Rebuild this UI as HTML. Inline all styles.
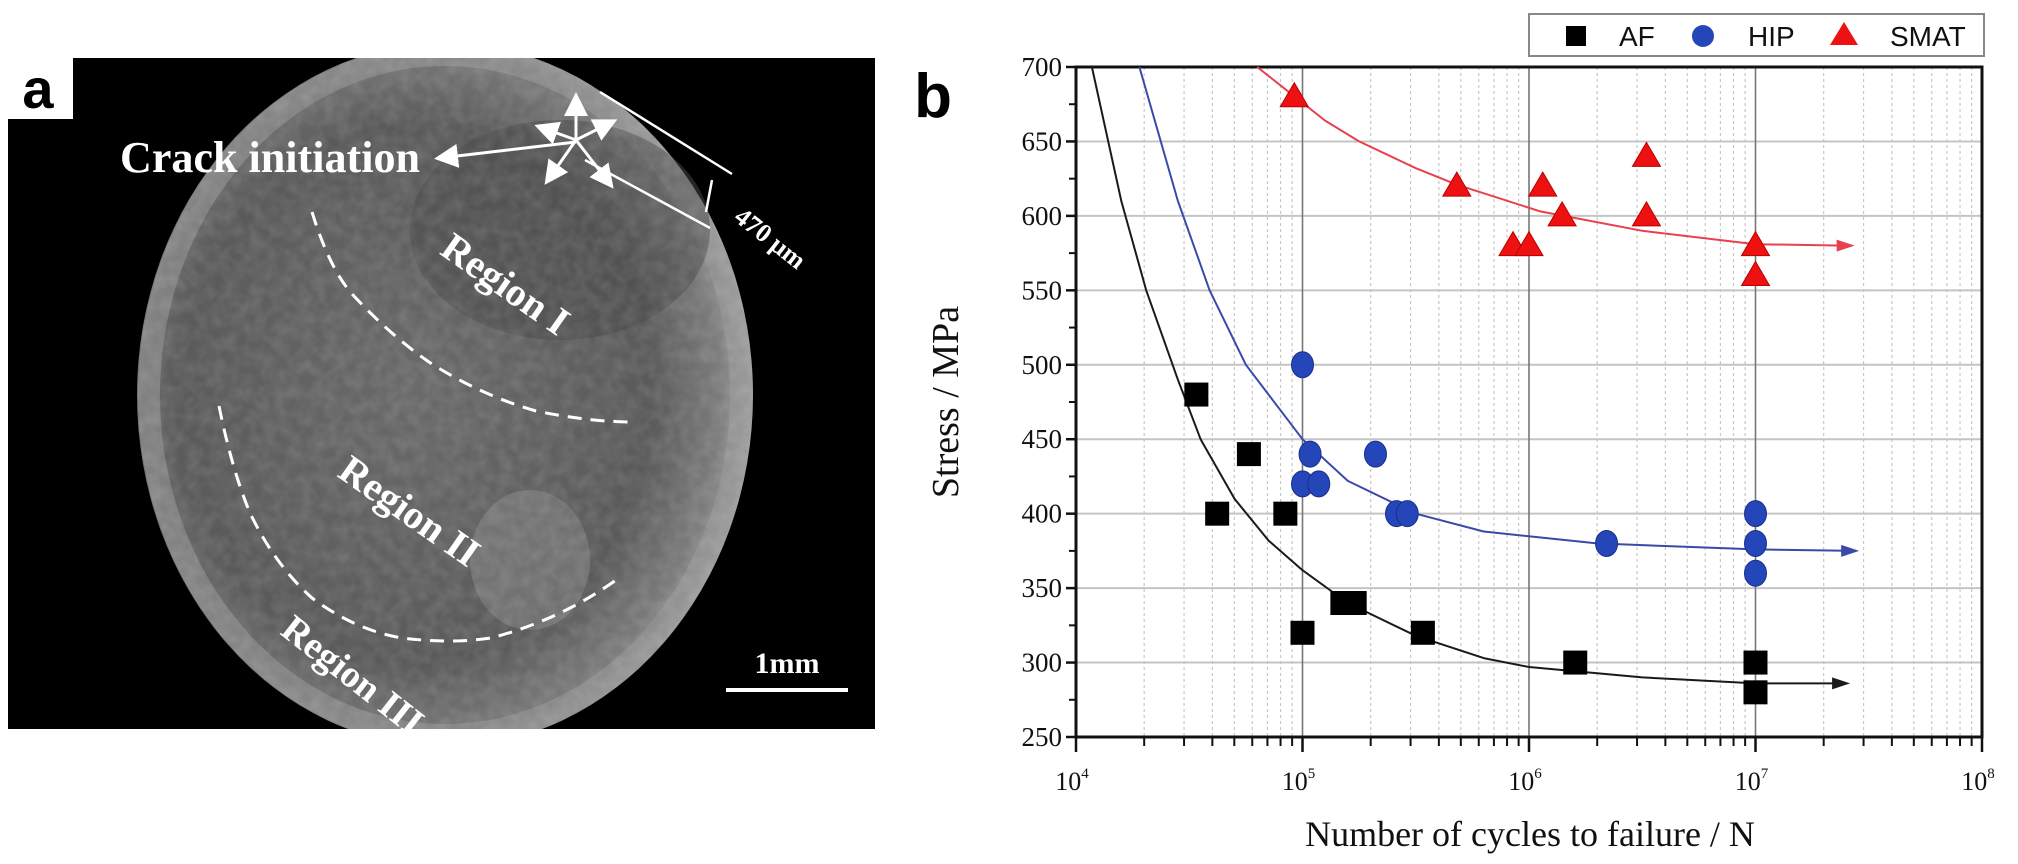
<!DOCTYPE html>
<html><head><meta charset="utf-8">
<style>
html,body{margin:0;padding:0;background:#fff;}
body{width:2018px;height:864px;overflow:hidden;position:relative;}
svg{position:absolute;left:0;top:0;}
</style></head>
<body>
<svg width="2018" height="864" viewBox="0 0 2018 864">
  <defs>
    <radialGradient id="fract" cx="0.45" cy="0.5" r="0.55">
      <stop offset="0" stop-color="#6a6a6a"/>
      <stop offset="0.7" stop-color="#5a5a5a"/>
      <stop offset="0.9" stop-color="#7c7c7c"/>
      <stop offset="1" stop-color="#a0a0a0"/>
    </radialGradient>
    <filter id="noise" x="0" y="0" width="100%" height="100%">
      <feTurbulence type="fractalNoise" baseFrequency="0.08" numOctaves="2" seed="3"/>
      <feColorMatrix type="matrix" values="0 0 0 0 1  0 0 0 0 1  0 0 0 0 1  0 0 0 0.9 -0.25"/>
    </filter>
    <clipPath id="photoClip"><rect x="8" y="58" width="867" height="671"/></clipPath>
    <clipPath id="ellClip"><ellipse cx="445" cy="395" rx="308" ry="352"/></clipPath>
    <marker id="wa" markerWidth="8" markerHeight="8" refX="6" refY="4" orient="auto"><path d="M0,0 L8,4 L0,8 Z" fill="#fff"/></marker>
  </defs>

  <g>
    <rect x="8" y="58" width="867" height="671" fill="#000"/>
    <g clip-path="url(#photoClip)">
      <ellipse cx="445" cy="395" rx="308" ry="352" fill="url(#fract)"/>
      <ellipse cx="445" cy="395" rx="296" ry="340" fill="none" stroke="#999" stroke-width="22" opacity="0.5"/>
      <ellipse cx="560" cy="230" rx="150" ry="110" fill="#4a4a4a" opacity="0.5"/>
      <ellipse cx="530" cy="560" rx="60" ry="70" fill="#9a9a9a" opacity="0.35"/>
      <g clip-path="url(#ellClip)">
        <rect x="130" y="40" width="630" height="710" filter="url(#noise)" opacity="0.22"/>
      </g>
      <path d="M312,212 Q330,270 353,295 Q390,335 429,362 Q480,395 536,411 Q590,422 634,422" fill="none" stroke="#fff" stroke-width="3" stroke-dasharray="14,9"/>
      <path d="M219,406 Q232,470 250,513 Q275,565 312,598 Q355,630 402,638 Q450,644 491,638 Q560,620 616,580" fill="none" stroke="#fff" stroke-width="3" stroke-dasharray="14,9"/>
    </g>
    <rect x="8" y="58" width="65" height="61" fill="#fff"/>
    <text x="38" y="108" font-family="Liberation Sans, sans-serif" font-weight="bold" font-size="56" text-anchor="middle" fill="#000">a</text>
    <text x="120" y="172" font-family="Liberation Serif, serif" font-weight="bold" font-size="44" textLength="300" lengthAdjust="spacingAndGlyphs" fill="#fff">Crack initiation</text>
    <line x1="576" y1="142" x2="440" y2="158" stroke="#fff" stroke-width="3" marker-end="url(#wa)"/>
    <g stroke="#fff" stroke-width="3">
      <line x1="576" y1="140" x2="576" y2="98" marker-end="url(#wa)"/>
      <line x1="576" y1="140" x2="540" y2="127" marker-end="url(#wa)"/>
      <line x1="576" y1="140" x2="612" y2="122" marker-end="url(#wa)"/>
      <line x1="576" y1="140" x2="548" y2="180" marker-end="url(#wa)"/>
      <line x1="576" y1="140" x2="610" y2="184" marker-end="url(#wa)"/>
    </g>
    <line x1="600" y1="92" x2="732" y2="174" stroke="#fff" stroke-width="2.5"/>
    <line x1="585" y1="160" x2="710" y2="228" stroke="#fff" stroke-width="2.5"/>
    <line x1="712" y1="180" x2="706" y2="212" stroke="#fff" stroke-width="2.5"/>
    <text x="765" y="245" transform="rotate(38 765 245)" font-family="Liberation Serif, serif" font-weight="bold" font-size="26" fill="#fff" text-anchor="middle">470 μm</text>
    <text x="498" y="295" transform="rotate(35 498 295)" font-family="Liberation Serif, serif" font-weight="bold" font-size="40" fill="#fff" text-anchor="middle">Region I</text>
    <text x="402" y="522" transform="rotate(35 402 522)" font-family="Liberation Serif, serif" font-weight="bold" font-size="40" fill="#fff" text-anchor="middle">Region II</text>
    <text x="345" y="685" transform="rotate(38 345 685)" font-family="Liberation Serif, serif" font-weight="bold" font-size="38" fill="#fff" text-anchor="middle">Region III</text>
    <text x="787" y="673" font-family="Liberation Serif, serif" font-weight="bold" font-size="30" fill="#fff" text-anchor="middle">1mm</text>
    <line x1="726" y1="690" x2="848" y2="690" stroke="#fff" stroke-width="4"/>
  </g>

  <text x="933" y="117" font-family="Liberation Sans, sans-serif" font-weight="bold" font-size="62" text-anchor="middle" fill="#000">b</text>

  <g id="chart"></g>
</svg>
<script>
var yTicks = [250, 300, 350, 400, 450, 500, 550, 600, 650, 700];
var xDecades = [4, 5, 6, 7, 8];
var afN = [3.4e4, 5.8e4, 4.2e4, 8.4e4, 1e5, 1.5e5, 1.7e5, 3.4e5, 1.6e6, 1e7, 1e7];
var afS = [480, 440, 400, 400, 320, 340, 340, 320, 300, 300, 280];
var hipN = [1e5, 1.08e5, 2.1e5, 1e5, 1.18e5, 2.6e5, 2.9e5, 2.2e6, 1e7, 1e7, 1e7];
var hipS = [500, 440, 440, 420, 420, 400, 400, 380, 400, 380, 360];
var smatN = [9.2e4, 4.8e5, 1.15e6, 1.4e6, 8.5e5, 1.0e6, 3.3e6, 3.3e6, 1e7, 1e7];
var smatS = [680, 620, 620, 600, 580, 580, 640, 600, 580, 560];
var afFitLogN = [4.07, 4.2, 4.31, 4.45, 4.55, 4.7, 4.85, 5.0, 5.2, 5.5, 5.8, 6.0, 6.5, 7.0, 7.4];
var afFitS = [700, 610, 550, 490, 450, 410, 382, 362, 340, 318, 303, 297, 290, 286, 286];
var hipFitLogN = [4.28, 4.45, 4.59, 4.75, 5.0, 5.2, 5.5, 5.8, 6.3, 7.0, 7.44];
var hipFitS = [700, 610, 550, 500, 450, 422, 400, 388, 380, 376, 375];
var smatFitLogN = [4.8, 4.95, 5.1, 5.25, 5.5, 5.68, 6.05, 6.5, 7.0, 7.42];
var smatFitS = [700, 682, 664, 650, 632, 621, 603, 590, 581, 580];

var L = 1076, R = 1982, T = 67, B = 737;
function xs(logN) { return L + (logN - 4) / 4 * (R - L); }
function xN(n) { return xs(Math.log10(n)); }
function ys(s) { return B - (s - 250) / 450 * (B - T); }

var NS = 'http://www.w3.org/2000/svg';
var g = document.getElementById('chart');
function mk(tag, attrs, parent) {
  var e = document.createElementNS(NS, tag);
  for (var k in attrs) e.setAttribute(k, attrs[k]);
  (parent || g).appendChild(e);
  return e;
}

var grid = mk('g', {});


for (var d = 4; d < 8; d++) {
  for (var m = 2; m <= 9; m++) {
    var gx = xs(d + Math.log10(m));
    var ml = mk('line', {x1: gx, x2: gx, y1: T, y2: B, stroke: '#c8c8c8', 'stroke-width': 1.2, 'stroke-dasharray': '3,3'}, grid);
    
    
  }
}
yTicks.forEach(function (v) {
  var hl = mk('line', {x1: L, x2: R, y1: ys(v), y2: ys(v), stroke: '#c4c4c4', 'stroke-width': 2}, grid);
  
  
});
xDecades.forEach(function (d) {
  if (d === 4 || d === 8) return;
  var vl = mk('line', {x1: xs(d), x2: xs(d), y1: T, y2: B, stroke: '#777', 'stroke-width': 1.6}, grid);
  
  
});

var frame = mk('rect', {x: L, y: T, width: R - L, height: B - T, fill: 'none', stroke: '#111', 'stroke-width': 3});



yTicks.forEach(function (v) {
  var t = mk('line', {x1: L - 10, x2: L, y1: ys(v), y2: ys(v), stroke: '#111', 'stroke-width': 2.5});
  
  
  var tx = mk('text', {x: L - 14, y: ys(v) + 9, 'text-anchor': 'end', 'font-family': 'Liberation Serif, serif', 'font-size': 27, fill: '#111'});
  tx.textContent = v;
  
  
  if (v < 700) {
    var mt = mk('line', {x1: L - 7, x2: L, y1: ys(v + 25), y2: ys(v + 25), stroke: '#111', 'stroke-width': 2});
    
    
  }
});
for (var d2 = 4; d2 < 8; d2++) {
  for (var m2 = 2; m2 <= 9; m2++) {
    var tx2 = xs(d2 + Math.log10(m2));
    var mt2 = mk('line', {x1: tx2, x2: tx2, y1: B, y2: B + 9, stroke: '#111', 'stroke-width': 2});
    
    
  }
}
xDecades.forEach(function (d) {
  var t = mk('line', {x1: xs(d), x2: xs(d), y1: B, y2: B + 15, stroke: '#111', 'stroke-width': 2.5});
  
  
  var lab = mk('text', {x: xs(d) - 4, y: 790, 'text-anchor': 'middle', 'font-family': 'Liberation Serif, serif', 'font-size': 26, fill: '#111'});
  
  
  lab.appendChild(document.createTextNode('10'));
  var sup = mk('tspan', {dy: -12, 'font-size': 15}, lab);
  sup.textContent = d;
});

var yt = mk('text', {x: 958, y: 402, transform: 'rotate(-90 958 402)', 'text-anchor': 'middle', 'font-family': 'Liberation Serif, serif', 'font-size': 38, fill: '#111'});
yt.textContent = 'Stress / MPa';


var xt = mk('text', {x: 1530, y: 846, 'text-anchor': 'middle', 'font-family': 'Liberation Serif, serif', 'font-size': 36, fill: '#111'});
xt.textContent = 'Number of  cycles to failure / N';



function curve(lx, sv, color, name) {
  var pts = lx.map(function (v, i) { return xs(v).toFixed(1) + ',' + ys(sv[i]).toFixed(1); });
  var p = mk('polyline', {points: pts.join(' '), fill: 'none', stroke: color, 'stroke-width': 2, 'stroke-linejoin': 'round'});
  
  
  var n = lx.length - 1;
  var ex = xs(lx[n]), ey = ys(sv[n]);
  var a = mk('polygon', {points: (ex + 4) + ',' + ey + ' ' + (ex - 14) + ',' + (ey - 6) + ' ' + (ex - 14) + ',' + (ey + 6), fill: color});
  
  
}
curve(afFitLogN, afFitS, '#1a1a1a', 'af-fit-curve');
curve(hipFitLogN, hipFitS, '#3a4aa8', 'hip-fit-curve');
curve(smatFitLogN, smatFitS, '#e8404e', 'smat-fit-curve');

afN.forEach(function (n, i) {
  var x = xN(n), y = ys(afS[i]);
  var r = mk('rect', {x: x - 12, y: y - 12, width: 24, height: 24, fill: '#000'});
  
  
});
hipN.forEach(function (n, i) {
  var c = mk('ellipse', {cx: xN(n), cy: ys(hipS[i]), rx: 11, ry: 13, fill: '#2446b8', stroke: '#1a2f8a', 'stroke-width': 1});
  
  
});
smatN.forEach(function (n, i) {
  var x = xN(n), y = ys(smatS[i]);
  var t = mk('polygon', {points: x + ',' + (y - 14) + ' ' + (x - 14) + ',' + (y + 10) + ' ' + (x + 14) + ',' + (y + 10), fill: '#ee1111', stroke: '#b00', 'stroke-width': 1});
  
  
});

var lg = mk('g', {});


var lb = mk('rect', {x: 1529, y: 14, width: 455, height: 42, fill: '#fff', stroke: '#888', 'stroke-width': 2}, lg);


var e1 = mk('rect', {x: 1566, y: 26, width: 20, height: 20, fill: '#000'}, lg);


var e2 = mk('ellipse', {cx: 1703, cy: 36, rx: 11, ry: 11, fill: '#2446b8'}, lg);


var e3 = mk('polygon', {points: '1844,22 1830,45 1858,45', fill: '#ee1111'}, lg);


[['AF', 1619], ['HIP', 1748], ['SMAT', 1890]].forEach(function (it) {
  var t = mk('text', {x: it[1], y: 46, 'font-family': 'Liberation Sans, sans-serif', 'font-size': 28, fill: '#111'}, lg);
  t.textContent = it[0];
  
  
});
</script>
</body></html>
